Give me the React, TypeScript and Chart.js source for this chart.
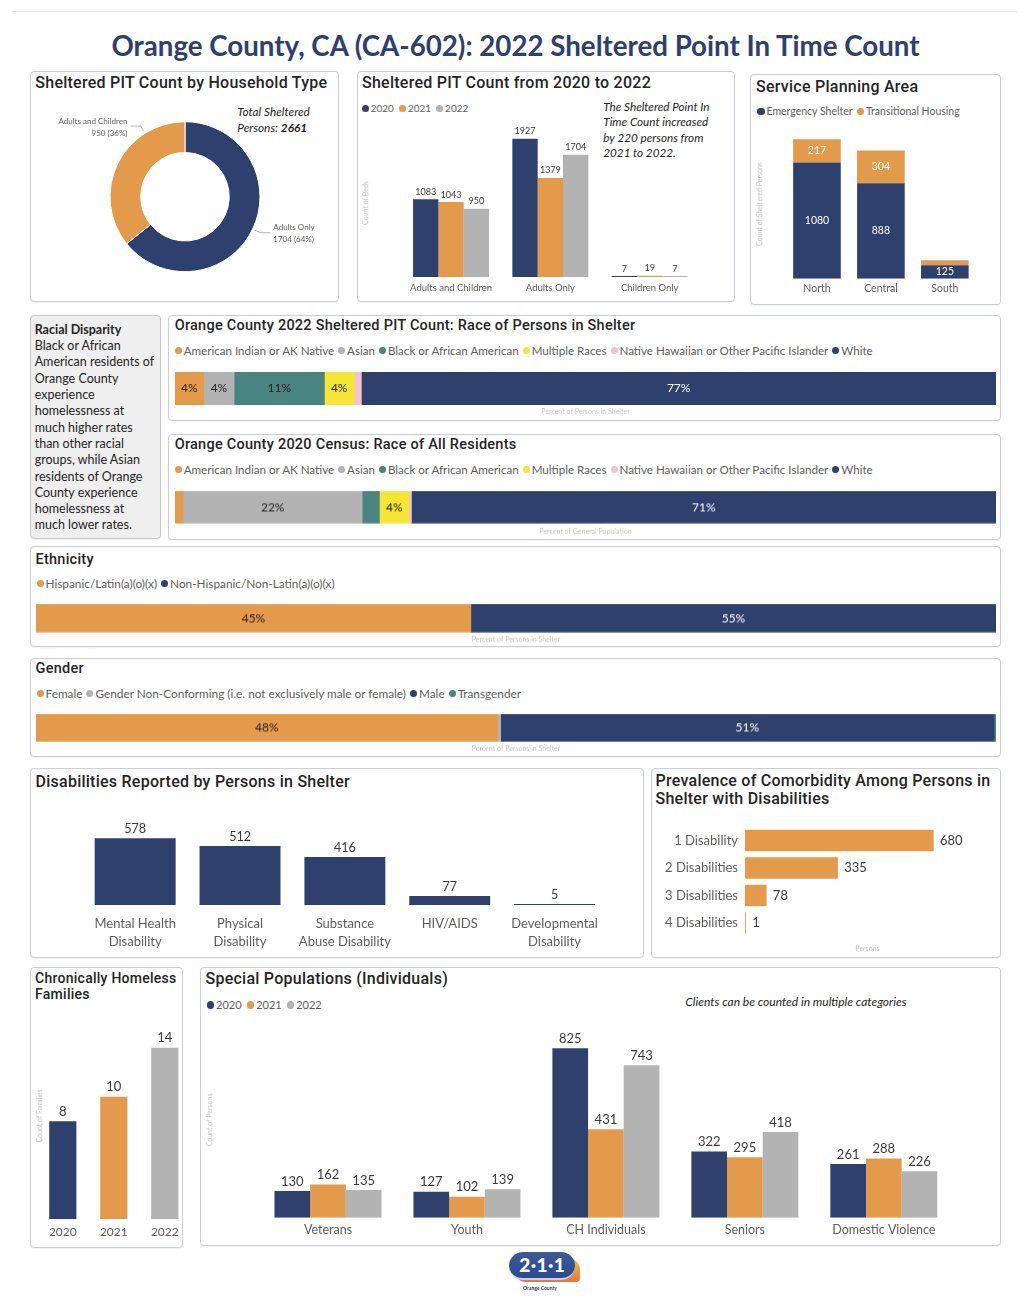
import React, { useEffect, useRef } from 'react';
import { Chart, registerables } from 'chart.js';
Chart.register(...registerables);

const NAVY = '#2E406D';
const ORANGE = '#E39A4A';
const GRAY = '#B3B3B3';
const TEAL = '#4A8480';
const YELLOW = '#F4E633';
const PINK = '#F2C5CE';
const TXT = '#252423';
const SUB = '#605E5C';
const FAINT = '#C8C6C4';
const BODY = 'Lato, "Noto Sans", sans-serif';
const HEAD = 'Roboto, "Noto Sans", sans-serif';

// ---------------- data ----------------
const householdLabels = ['Adults Only', 'Adults and Children'];
const householdValues = [1704, 950];

const pitCategories = ['Adults and Children', 'Adults Only', 'Children Only'];
const pitYears = ['2020', '2021', '2022'];
const pit2020 = [1083, 1927, 7];
const pit2021 = [1043, 1379, 19];
const pit2022 = [950, 1704, 7];

const spaCategories = ['North', 'Central', 'South'];
const spaSeries = ['Emergency Shelter', 'Transitional Housing'];
const spaEmergency = [1080, 888, 125];
const spaTransitional = [217, 304, 47];

const raceCategories = ['American Indian or AK Native', 'Asian', 'Black or African American', 'Multiple Races', 'Native Hawaiian or Other Pacific Islander', 'White'];
const raceShelterPct = [3.5, 3.7, 11.0, 3.6, 0.9, 77.3];
const raceCensusPct = [1.0, 21.8, 2.1, 3.6, 0.3, 71.2];

const ethnicityCategories = ['Hispanic/Latin(a)(o)(x)', 'Non-Hispanic/Non-Latin(a)(o)(x)'];
const ethnicityPct = [45.3, 54.7];

const genderCategories = ['Female', 'Gender Non-Conforming (i.e. not exclusively male or female)', 'Male', 'Transgender'];
const genderPct = [48.1, 0.3, 51.4, 0.2];

const disabilityCategories: (string | string[])[] = [['Mental Health', 'Disability'], ['Physical', 'Disability'], ['Substance', 'Abuse Disability'], 'HIV/AIDS', ['Developmental', 'Disability']];
const disabilityValues = [578, 512, 416, 77, 5];

const comorbidityCategories = ['1 Disability', '2 Disabilities', '3 Disabilities', '4 Disabilities'];
const comorbidityValues = [680, 335, 78, 1];

const familyYears = ['2020', '2021', '2022'];
const familyValues = [8, 10, 14];

const specialCategories = ['Veterans', 'Youth', 'CH Individuals', 'Seniors', 'Domestic Violence'];
const special2020 = [130, 127, 825, 322, 261];
const special2021 = [162, 102, 431, 295, 288];
const special2022 = [135, 139, 743, 418, 226];

const yearColors = [NAVY, ORANGE, GRAY];
const raceColors = [ORANGE, GRAY, TEAL, YELLOW, PINK, NAVY];
const ethnicityColors = [ORANGE, NAVY];
const genderColors = [ORANGE, GRAY, NAVY, TEAL];

// ---------------- helpers ----------------
const common = {
  responsive: false,
  animation: false,
  plugins: { legend: { display: false }, tooltip: { enabled: false } },
};

type LabelOpts = {
  mode: 'top' | 'center' | 'right';
  size: number;
  color?: string | ((di: number, i: number) => string);
  fmt?: (v: number) => string;
  minSize?: number;
  offset?: number;
};

function valueLabels(o: LabelOpts) {
  return {
    id: 'valueLabels',
    afterDatasetsDraw(chart: any) {
      const ctx = chart.ctx;
      ctx.save();
      ctx.font = `${o.size}px ${BODY}`;
      const horiz = chart.options.indexAxis === 'y';
      chart.data.datasets.forEach((ds: any, di: number) => {
        const meta = chart.getDatasetMeta(di);
        meta.data.forEach((el: any, i: number) => {
          const v = ds.data[i];
          const text = o.fmt ? o.fmt(v) : String(v);
          if (!text) return;
          const p = el.getProps(['x', 'y', 'base'], true);
          ctx.fillStyle = typeof o.color === 'function' ? o.color(di, i) : (o.color || '#3B3A39');
          if (o.mode === 'top') {
            ctx.textAlign = 'center';
            ctx.textBaseline = 'alphabetic';
            ctx.fillText(text, p.x, p.y - (o.offset ?? 4));
          } else if (o.mode === 'center') {
            const size = horiz ? Math.abs(p.x - p.base) : Math.abs(p.base - p.y);
            if (size < (o.minSize ?? 0)) return;
            const cx = horiz ? (p.x + p.base) / 2 : p.x;
            const cy = horiz ? p.y : (p.y + p.base) / 2;
            ctx.textAlign = 'center';
            ctx.textBaseline = 'middle';
            ctx.fillText(text, cx, cy);
          } else {
            ctx.textAlign = 'left';
            ctx.textBaseline = 'middle';
            ctx.fillText(text, p.x + (o.offset ?? 6), p.y);
          }
        });
      });
      ctx.restore();
    },
  };
}

const donutAnchor = [0.5, 0.75];
const donutLabels = {
  id: 'donutLabels',
  afterDatasetsDraw(chart: any) {
    const ctx = chart.ctx;
    const ds = chart.data.datasets[0];
    const total = ds.data.reduce((a: number, b: number) => a + b, 0);
    const meta = chart.getDatasetMeta(0);
    ctx.save();
    meta.data.forEach((arc: any, i: number) => {
      const p = arc.getProps(['x', 'y', 'startAngle', 'endAngle', 'outerRadius'], true);
      const a = p.startAngle + (p.endAngle - p.startAngle) * donutAnchor[i];
      const c = Math.cos(a), s = Math.sin(a);
      const px = p.x + c * (p.outerRadius + 2.5), py = p.y + s * (p.outerRadius + 2.5);
      const ex = px + c * 6, ey = py + s * 6;
      const dir = c >= 0 ? 1 : -1;
      const hx = ex + dir * 10;
      ctx.strokeStyle = '#B5B5B5';
      ctx.lineWidth = 1;
      ctx.beginPath();
      ctx.moveTo(px, py);
      ctx.lineTo(ex, ey);
      ctx.lineTo(hx, ey);
      ctx.stroke();
      ctx.fillStyle = SUB;
      ctx.font = `8px ${BODY}`;
      ctx.textAlign = dir > 0 ? 'left' : 'right';
      ctx.textBaseline = 'middle';
      const tx = hx + dir * 3;
      const v = ds.data[i];
      ctx.fillText(chart.data.labels[i], tx, ey - 5);
      ctx.fillText(`${v} (${Math.round((v / total) * 100)}%)`, tx, ey + 7);
    });
    ctx.restore();
  },
};

const xCat = (size: number, pad: number, h: number, lh: number | string = 1.2) => ({
  grid: { display: false, drawTicks: false },
  border: { display: false },
  ticks: { font: { family: BODY, size, lineHeight: lh }, color: SUB, padding: pad, maxRotation: 0, minRotation: 0, autoSkip: false },
  afterFit: (s: any) => { s.height = h; },
});

function pctBox(barLeft: number, barRight: number, barTop: number, barBottom: number, titleY: number) {
  const titlePad = titleY - 4.2 - barBottom;
  const top = barTop - 4;
  const height = barBottom + titlePad + 8.4 + 3 - top;
  return { left: barLeft - 4, top, width: barRight - barLeft + 8, height, pad: { left: 4, right: 4, top: 4, bottom: 3 }, titlePad };
}

function pctChart(cats: string[], vals: number[], colors: string[], title: string, box: any) {
  return () => ({
    type: 'bar',
    data: {
      labels: [''],
      datasets: cats.map((c, i) => ({ label: c, data: [vals[i]], backgroundColor: colors[i], categoryPercentage: 1, barPercentage: 1 })),
    },
    options: {
      ...common,
      indexAxis: 'y',
      layout: { padding: box.pad },
      scales: {
        x: {
          stacked: true, min: 0, max: 100,
          grid: { display: false, drawTicks: false }, border: { display: false }, ticks: { display: false },
          title: { display: true, text: title, color: FAINT, font: { family: BODY, size: 7, lineHeight: 1.2 }, padding: { top: box.titlePad, bottom: 0 } },
        },
        y: { stacked: true, display: false },
      },
    },
    plugins: [valueLabels({ mode: 'center', size: 12, color: (di) => (colors[di] === NAVY ? '#FFFFFF' : TXT), fmt: (v) => Math.round(v) + '%', minSize: 20 })],
  });
}

function ChartBox({ left, top, width, height, make }: { left: number; top: number; width: number; height: number; make: () => any }) {
  const ref = useRef<HTMLCanvasElement>(null);
  useEffect(() => {
    const chart = new Chart(ref.current as HTMLCanvasElement, make());
    return () => chart.destroy();
  }, []);
  return <canvas ref={ref} width={width} height={height} style={{ position: 'absolute', left, top, width, height }} />;
}

function Panel({ x, y, w, h, bg = '#FFFFFF', border = '#C9CED9' }: any) {
  return <div style={{ position: 'absolute', left: x, top: y, width: w, height: h, boxSizing: 'border-box', border: `1px solid ${border}`, borderRadius: 4, background: bg, boxShadow: '0 1px 2px rgba(0,0,0,0.06)' }} />;
}

function Txt({ x, y, size, lh, children, style }: any) {
  const L = lh ?? Math.round(size * 1.25);
  return <div style={{ position: 'absolute', left: x, top: y - L / 2, fontSize: size, lineHeight: L + 'px', whiteSpace: 'nowrap', color: TXT, fontFamily: BODY, ...style }}>{children}</div>;
}

function Head({ x, y, size = 16, lh, children }: any) {
  return <Txt x={x} y={y} size={size} lh={lh} style={{ fontFamily: HEAD, fontWeight: 500, color: TXT, letterSpacing: 0.25 }}>{children}</Txt>;
}

function VTitle({ x, y, text }: any) {
  return <div style={{ position: 'absolute', left: x, top: y, transform: 'translate(-50%,-50%) rotate(-90deg)', fontSize: 7, color: FAINT, whiteSpace: 'nowrap', fontFamily: BODY }}>{text}</div>;
}

function Legend({ x, y, labels, colors, size = 11, gap = 5, dot = 7 }: any) {
  return (
    <div style={{ position: 'absolute', left: x, top: y - size * 0.65, height: size * 1.3, display: 'flex', alignItems: 'center', fontFamily: BODY, fontSize: size, color: SUB, whiteSpace: 'nowrap' }}>
      {labels.map((l: string, i: number) => (
        <span key={i} style={{ display: 'flex', alignItems: 'center', marginRight: gap }}>
          <span style={{ width: dot, height: dot, borderRadius: '50%', background: colors[i], marginRight: 2, display: 'inline-block' }} />
          {l}
        </span>
      ))}
    </div>
  );
}

// ---------------- chart configs ----------------
const donutConfig = () => ({
  type: 'doughnut',
  data: { labels: householdLabels, datasets: [{ data: householdValues, backgroundColor: [NAVY, ORANGE], borderColor: '#FFFFFF', borderWidth: 1 }] },
  options: { ...common, cutout: '59%', layout: { padding: { left: 79.5, right: 78.5, top: 25.2, bottom: 28.8 } } },
  plugins: [donutLabels],
});

const pitConfig = () => ({
  type: 'bar',
  data: {
    labels: pitCategories,
    datasets: [pit2020, pit2021, pit2022].map((d, i) => ({ label: pitYears[i], data: d, backgroundColor: yearColors[i], categoryPercentage: 0.765, barPercentage: 1, minBarLength: 1 })),
  },
  options: {
    ...common,
    layout: { padding: { left: 45.4, right: 36.7, top: 0, bottom: 3 } },
    scales: { x: xCat(9.5, 5.3, 20), y: { display: false, min: 0, max: 2326 } },
  },
  plugins: [valueLabels({ mode: 'top', size: 9, offset: 4.5 })],
});

const spaConfig = () => ({
  type: 'bar',
  data: {
    labels: spaCategories,
    datasets: [
      { label: spaSeries[0], data: spaEmergency, backgroundColor: NAVY },
      { label: spaSeries[1], data: spaTransitional, backgroundColor: ORANGE },
    ].map((d) => ({ ...d, categoryPercentage: 0.745, barPercentage: 1 })),
  },
  options: {
    ...common,
    layout: { padding: { left: 35, right: 23.2, top: 0, bottom: 6.3 } },
    scales: { x: { ...xCat(10.5, 4, 20), stacked: true }, y: { display: false, stacked: true, min: 0, max: 1430 } },
  },
  plugins: [valueLabels({ mode: 'center', size: 10.5, color: '#FFFFFF', minSize: 11 })],
});

const disabilityConfig = () => ({
  type: 'bar',
  data: { labels: disabilityCategories, datasets: [{ data: disabilityValues, backgroundColor: NAVY, categoryPercentage: 0.772, barPercentage: 1, minBarLength: 1 }] },
  options: {
    ...common,
    layout: { padding: { left: 52.75, right: 36, top: 0, bottom: 6 } },
    scales: { x: xCat(13, 10.3, 50, '18px'), y: { display: false, min: 0, max: 866.6 } },
  },
  plugins: [valueLabels({ mode: 'top', size: 12.5, offset: 5 })],
});

const comorbidityConfig = () => ({
  type: 'bar',
  data: { labels: comorbidityCategories, datasets: [{ data: comorbidityValues, backgroundColor: ORANGE, categoryPercentage: 0.775, barPercentage: 1, minBarLength: 1 }] },
  options: {
    ...common,
    indexAxis: 'y',
    layout: { padding: { left: 0, right: 10, top: 0, bottom: 3.8 } },
    scales: {
      y: { grid: { display: false, drawTicks: false }, border: { display: false }, ticks: { font: { family: BODY, size: 13 }, color: SUB, padding: 6.9, autoSkip: false }, afterFit: (s: any) => { s.width = 93.9; } },
      x: {
        min: 0, max: 883, grid: { display: false, drawTicks: false }, border: { display: false }, ticks: { display: false },
        title: { display: true, text: 'Persons', color: FAINT, font: { family: BODY, size: 7, lineHeight: 1.2 }, padding: { top: 8, bottom: 0 } },
      },
    },
  },
  plugins: [valueLabels({ mode: 'right', size: 13, offset: 6.3 })],
});

const familyConfig = () => ({
  type: 'bar',
  data: { labels: familyYears, datasets: [{ data: familyValues, backgroundColor: yearColors, categoryPercentage: 0.533, barPercentage: 1 }] },
  options: {
    ...common,
    layout: { padding: { left: 7.3, right: 1.7, top: 0, bottom: 4.7 } },
    scales: { x: xCat(12, 5.2, 22), y: { display: false, min: 0, max: 17.9 } },
  },
  plugins: [valueLabels({ mode: 'top', size: 13, offset: 5.3 })],
});

const specialConfig = () => ({
  type: 'bar',
  data: {
    labels: specialCategories,
    datasets: [special2020, special2021, special2022].map((d, i) => ({ label: pitYears[i], data: d, backgroundColor: yearColors[i], categoryPercentage: 0.77, barPercentage: 1 })),
  },
  options: {
    ...common,
    layout: { padding: { left: 58.5, right: 46.7, top: 0, bottom: 5.3 } },
    scales: { x: xCat(12.5, 4.5, 22), y: { display: false, min: 0, max: 963 } },
  },
  plugins: [valueLabels({ mode: 'top', size: 13, offset: 5.3 })],
});

const raceBox = pctBox(174.7, 996, 372, 405.3, 412);
const censusBox = pctBox(174.7, 996, 491.3, 524, 532);
const ethBox = pctBox(36, 996, 604, 632.3, 639.3);
const genBox = pctBox(36, 996, 714.3, 742.3, 749);

const disparityLines = [
  'Black or African',
  'American residents of',
  'Orange County',
  'experience',
  'homelessness at',
  'much higher rates',
  'than other racial',
  'groups, while Asian',
  'residents of Orange',
  'County experience',
  'homelessness at',
  'much lower rates.',
];

export default function App() {
  return (
    <div style={{ position: 'absolute', left: 0, top: 0, width: 1027, height: 1308, background: '#FFFFFF', fontFamily: BODY, overflow: 'hidden' }}>
      <div style={{ position: 'absolute', left: 12, top: 11, width: 1005, height: 1, background: '#E6E6E6' }} />
      <div style={{ position: 'absolute', left: 0, width: 1031, top: 46 - 17, height: 34, lineHeight: '34px', textAlign: 'center', fontFamily: BODY, fontWeight: 700, fontSize: 27.7, color: NAVY, whiteSpace: 'nowrap' }}>
        Orange County, CA (CA-602): 2022 Sheltered Point In Time Count
      </div>

      {/* Panels */}
      <Panel x={29.7} y={70.7} w={309.3} h={231.6} />
      <Panel x={356.7} y={70.7} w={378.3} h={231.6} />
      <Panel x={749.7} y={73.7} w={251.6} h={231.6} />
      <Panel x={29.7} y={314.7} w={131} h={224} bg="#EFEFEF" border="#C8C8C8" />
      <Panel x={168} y={314.7} w={832.7} h={106} />
      <Panel x={168} y={433.7} w={832.7} h={106} />
      <Panel x={30} y={546} w={971} h={100.7} />
      <Panel x={30} y={657.7} w={971} h={99.6} />
      <Panel x={30} y={768.3} w={614} h={189.4} />
      <Panel x={650.5} y={768.3} w={350.5} h={189.4} />
      <Panel x={29.8} y={967} w={153.6} h={281.3} />
      <Panel x={199.8} y={966.7} w={801.2} h={279.3} />

      {/* Panel 1: donut */}
      <Head x={35.3} y={83}>Sheltered PIT Count by Household Type</Head>
      <Txt x={237.3} y={112} size={11.8} lh={15.3} style={{ fontStyle: 'italic' }}>
        Total Sheltered<br />Persons: <b>2661</b>
      </Txt>
      <ChartBox left={30} top={96} width={309} height={205} make={donutConfig} />

      {/* Panel 2 */}
      <Head x={362} y={83}>Sheltered PIT Count from 2020 to 2022</Head>
      <Legend x={361.7} y={108} labels={pitYears} colors={yearColors} size={10} gap={5} dot={7} />
      <Txt x={603.3} y={106.3} size={11.7} lh={15.6} style={{ fontStyle: 'italic' }}>
        The Sheltered Point In<br />Time Count increased<br />by 220 persons from<br />2021 to 2022.
      </Txt>
      <VTitle x={365} y={203} text="Count of Beds" />
      <ChartBox left={356} top={110} width={380} height={190} make={pitConfig} />

      {/* Panel 3 */}
      <Head x={756} y={86.5}>Service Planning Area</Head>
      <Legend x={757} y={111.3} labels={spaSeries} colors={[NAVY, ORANGE]} size={10.5} gap={4} dot={7.5} />
      <VTitle x={759} y={204} text="Count of Sheltered Persons" />
      <ChartBox left={750} top={125} width={250} height={180} make={spaConfig} />

      {/* Racial disparity text */}
      <Txt x={34.7} y={330} size={12.5} lh={16.3}>
        <b>Racial Disparity</b>
        {disparityLines.map((l, i) => (<React.Fragment key={i}><br />{l}</React.Fragment>))}
      </Txt>

      {/* Race shelter */}
      <Head x={174.7} y={326} size={14.5}>Orange County 2022 Sheltered PIT Count: Race of Persons in Shelter</Head>
      <Legend x={174.7} y={351} labels={raceCategories} colors={raceColors} size={11.6} gap={4} dot={7} />
      <ChartBox left={raceBox.left} top={raceBox.top} width={raceBox.width} height={raceBox.height} make={pctChart(raceCategories, raceShelterPct, raceColors, 'Percent of Persons in Shelter', raceBox)} />

      {/* Race census */}
      <Head x={174.7} y={445.3} size={14.5}>Orange County 2020 Census: Race of All Residents</Head>
      <Legend x={174.7} y={470} labels={raceCategories} colors={raceColors} size={11.6} gap={4} dot={7} />
      <ChartBox left={censusBox.left} top={censusBox.top} width={censusBox.width} height={censusBox.height} make={pctChart(raceCategories, raceCensusPct, raceColors, 'Percent of General Population', censusBox)} />

      {/* Ethnicity */}
      <Head x={35.5} y={560} size={14.5}>Ethnicity</Head>
      <Legend x={36.5} y={584} labels={ethnicityCategories} colors={ethnicityColors} size={11.8} gap={4} dot={7} />
      <ChartBox left={ethBox.left} top={ethBox.top} width={ethBox.width} height={ethBox.height} make={pctChart(ethnicityCategories, ethnicityPct, ethnicityColors, 'Percent of Persons in Shelter', ethBox)} />

      {/* Gender */}
      <Head x={35.5} y={669.3} size={14.5}>Gender</Head>
      <Legend x={36.5} y={694} labels={genderCategories} colors={genderColors} size={11.8} gap={4} dot={7} />
      <ChartBox left={genBox.left} top={genBox.top} width={genBox.width} height={genBox.height} make={pctChart(genderCategories, genderPct, genderColors, 'Percent of Persons in Shelter', genBox)} />

      {/* Disabilities */}
      <Head x={35.5} y={781.7}>Disabilities Reported by Persons in Shelter</Head>
      <ChartBox left={30} top={805} width={613} height={156} make={disabilityConfig} />

      {/* Comorbidity */}
      <Head x={655.5} y={781} lh={18}>Prevalence of Comorbidity Among Persons in<br />Shelter with Disabilities</Head>
      <ChartBox left={651} top={811.5} width={349} height={145.5} make={comorbidityConfig} />

      {/* Chronic families */}
      <Head x={35.1} y={978.3} size={14} lh={16}>Chronically Homeless<br />Families</Head>
      <VTitle x={39.4} y={1116} text="Count of Families" />
      <ChartBox left={30} top={1000} width={162} height={246} make={familyConfig} />

      {/* Special populations */}
      <Head x={205.5} y={979.3}>Special Populations (Individuals)</Head>
      <Legend x={206.6} y={1005} labels={pitYears} colors={yearColors} size={11} gap={5} dot={7.5} />
      <Txt x={685.3} y={1001.7} size={12} style={{ fontStyle: 'italic' }}>Clients can be counted in multiple categories</Txt>
      <VTitle x={209.4} y={1120} text="Count of Persons" />
      <ChartBox left={200} top={1020} width={800} height={225} make={specialConfig} />

      {/* 211 logo */}
      <div style={{ position: 'absolute', left: 514, top: 1258, width: 66, height: 24, background: 'linear-gradient(180deg,#F6C343,#E8743B)', borderRadius: '12px 12px 4px 12px' }} />
      <div style={{ position: 'absolute', left: 509.3, top: 1251.7, width: 66, height: 28, background: 'linear-gradient(180deg,#3D5A9A,#2A4B8F)', borderRadius: 14, borderBottom: '2px solid #BFD3F0', boxSizing: 'border-box', color: '#FFFFFF', fontFamily: BODY, fontWeight: 900, fontSize: 19, lineHeight: '26px', textAlign: 'center', letterSpacing: 0.5 }}>
        2·1·1
      </div>
      <div style={{ position: 'absolute', left: 510, width: 60, top: 1285, fontSize: 5, lineHeight: '6px', textAlign: 'center', color: NAVY, fontFamily: BODY, fontWeight: 700 }}>Orange County</div>
    </div>
  );
}
